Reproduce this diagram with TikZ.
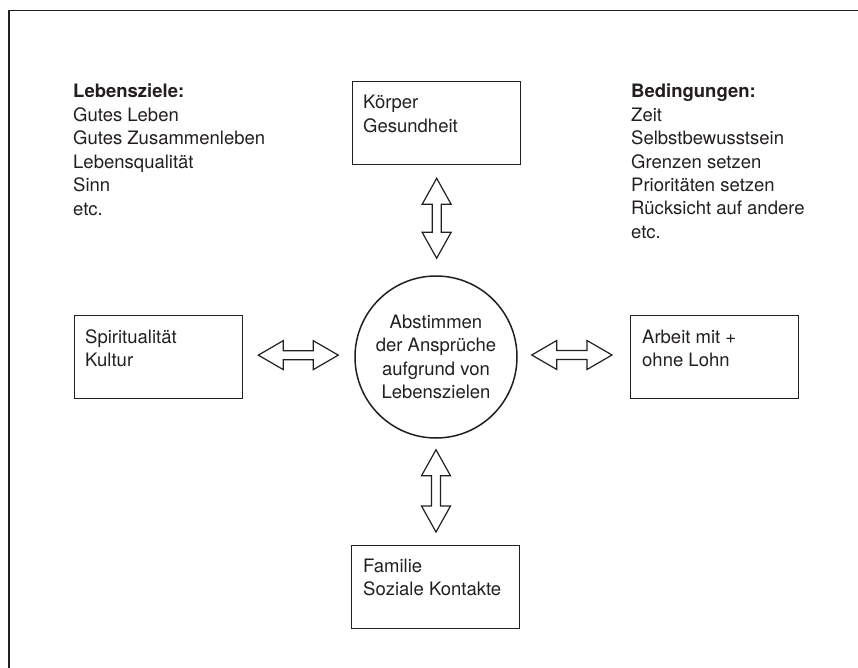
\documentclass[tikz,border=0pt]{standalone}
\usepackage{fontspec}
\setmainfont{TeX Gyre Heros}
\usetikzlibrary{calc}
\definecolor{ink}{HTML}{231F20}
\newcommand\mydblv[2]{%
  \draw[arrowline] let \p1=(#1), \p2=(#2) in
    (\x1,\y1) -- (\x1+14.5pt,\y1-26pt) -- (\x1+4.5pt,\y1-26pt) -- (\x1+4.5pt,\y2+26pt)
    -- (\x1+14.5pt,\y2+26pt) -- (\x1,\y2) -- (\x1-14.5pt,\y2+26pt) -- (\x1-4.5pt,\y2+26pt)
    -- (\x1-4.5pt,\y1-26pt) -- (\x1-14.5pt,\y1-26pt) -- cycle;}
\newcommand\mydblh[2]{%
  \draw[arrowline] let \p1=(#1), \p2=(#2) in
    (\x1,\y1) -- (\x1+25pt,\y1+14.5pt) -- (\x1+25pt,\y1+4.5pt) -- (\x2-25pt,\y1+4.5pt)
    -- (\x2-25pt,\y1+14.5pt) -- (\x2,\y1) -- (\x2-25pt,\y1-14.5pt) -- (\x2-25pt,\y1-4.5pt)
    -- (\x1+25pt,\y1-4.5pt) -- (\x1+25pt,\y1-14.5pt) -- cycle;}
\tikzset{
  boxnode/.style={draw=ink, line width=1.3pt, minimum width=168pt, minimum height=83pt, inner sep=0pt, anchor=north west},
  lbl/.style={text=ink, align=left, inner sep=0pt, anchor=base west, font=\fontsize{18.5}{23.4}\selectfont},
  arrowline/.style={draw=ink, line width=1.2pt, line join=miter},
  framestyle/.style={draw=ink, line width=1.8pt}
}
\begin{document}
\begin{tikzpicture}[x=1pt,y=-1pt]
\useasboundingbox (0,0) rectangle (858,668);
% frame (top and left sides only)
\coordinate (fbl) at (9,668);
\coordinate (ftl) at (9,10.5);
\coordinate (ftr) at (858,10.5);
\draw[framestyle] (fbl) -- (ftl) -- (ftr);

% lists (anchor = baseline of last line)
\node[lbl] (ziele) at (73,215) {\textbf{Lebensziele:}\\Gutes Leben\\Gutes Zusammenleben\\Lebensqualität\\Sinn\\etc.};
\node[lbl] (bed) at (631,238.4) {\textbf{Bedingungen:}\\Zeit\\Selbstbewusstsein\\Grenzen setzen\\Prioritäten setzen\\Rücksicht auf andere\\etc.};

% boxes
\node[boxnode] (koerper) at (352,81) {};
\node[boxnode] (spirit) at (74,315) {};
\node[boxnode] (arbeit) at (630,315) {};
\node[boxnode] (familie) at (351,545) {};

\node[lbl] (koerpertxt) at ($(koerper.north west)+(11,51.4)$) {Körper\\Gesundheit};
\node[lbl] (spirittxt) at ($(spirit.north west)+(11,51.4)$) {Spiritualität\\Kultur};
\node[lbl] (arbeittxt) at ($(arbeit.north west)+(12,51.4)$) {Arbeit mit +\\ohne Lohn};
\node[lbl] (familietxt) at ($(familie.north west)+(12,50.4)$) {Familie\\Soziale Kontakte};

% centre circle
\node[circle, draw=ink, line width=1.5pt, minimum size=162pt, inner sep=0pt, text=ink,
      align=center, font=\fontsize{18.5}{23.4}\selectfont] (circ) at (436,357)
      {Abstimmen\\der Ansprüche\\aufgrund von\\Lebenszielen};

% arrow end points
\coordinate (vt1) at ($(koerper.south)+(0,13)$);
\coordinate (vt2) at ($(circ.north)+(0,-17)$);
\coordinate (vb1) at ($(circ.south)+(0,11)$);
\coordinate (vb2) at ($(familie.north)+(0,-13)$);
\coordinate (hl1) at ($(spirit.east)+(15,-2)$);
\coordinate (hl2) at ($(circ.west)+(-16,-3)$);
\coordinate (hr1) at ($(circ.east)+(14,-2)$);
\coordinate (hr2) at ($(arbeit.west)+(-18,-2)$);

\mydblv{vt1}{vt2}
\mydblv{vb1}{vb2}
\mydblh{hl1}{hl2}
\mydblh{hr1}{hr2}
\end{tikzpicture}
\end{document}
